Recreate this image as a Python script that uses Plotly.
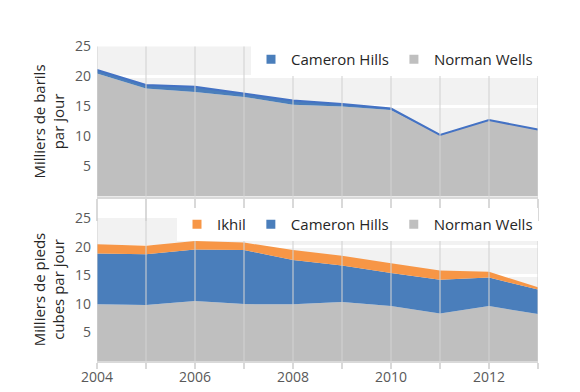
import plotly.graph_objects as go

years = [2004, 2005, 2006, 2007, 2008, 2009, 2010, 2011, 2012, 2013]
x_tick_labels = ["2004", "2006", "2008", "2010", "2012"]
y_tick_vals = [5, 10, 15, 20, 25]

# Oil (thousand barrels per day)
oil_norman_wells = [20.5, 18.0, 17.4, 16.6, 15.3, 15.0, 14.4, 10.2, 12.7, 11.1]
oil_cameron_hills = [0.6, 0.6, 0.9, 0.6, 0.7, 0.4, 0.25, 0.05, 0.05, 0.05]

# Gas (thousand cubic feet per day)
gas_norman_wells = [9.9, 9.8, 10.5, 9.95, 9.9, 10.3, 9.6, 8.3, 9.6, 8.2]
gas_cameron_hills = [8.9, 8.85, 9.0, 9.45, 7.75, 6.4, 5.8, 5.9, 5.0, 4.3]
gas_ikhil = [1.6, 1.5, 1.5, 1.3, 1.75, 1.7, 1.7, 1.6, 1.0, 0.4]

GRAY = "#bfbfbf"
BLUE = "#4a7ebb"
BLUE_LINE = "#4472c4"
ORANGE = "#f79646"
FONT = "Open Sans, Lato, sans-serif"

W, H = 580, 392
OFF = 8  # page body margin offset

def px_x(p):
    return (p - OFF) / W

def px_y(p):
    return 1 - (p - OFF) / H

fig = go.Figure()

# ---- top: oil ----
fig.add_trace(go.Scatter(x=years, y=oil_norman_wells, stackgroup="oil", mode="lines",
                         line=dict(width=0, color=GRAY), fillcolor=GRAY,
                         showlegend=False, xaxis="x", yaxis="y"))
fig.add_trace(go.Scatter(x=years, y=oil_cameron_hills, stackgroup="oil", mode="lines",
                         line=dict(width=2, color=BLUE_LINE), fillcolor=BLUE,
                         showlegend=False, xaxis="x", yaxis="y"))

# ---- bottom: gas ----
fig.add_trace(go.Scatter(x=years, y=gas_norman_wells, stackgroup="gas", mode="lines",
                         line=dict(width=0, color=GRAY), fillcolor=GRAY,
                         showlegend=False, xaxis="x2", yaxis="y2"))
fig.add_trace(go.Scatter(x=years, y=gas_cameron_hills, stackgroup="gas", mode="lines",
                         line=dict(width=0, color=BLUE), fillcolor=BLUE,
                         showlegend=False, xaxis="x2", yaxis="y2"))
fig.add_trace(go.Scatter(x=years, y=gas_ikhil, stackgroup="gas", mode="lines",
                         line=dict(width=0, color=ORANGE), fillcolor=ORANGE,
                         showlegend=False, xaxis="x2", yaxis="y2"))

# legend entries (square swatches)
def legend_entry(name, color, legend, xa, ya):
    fig.add_trace(go.Scatter(x=[None], y=[None], mode="markers", name=name,
                             marker=dict(symbol="square", size=9, color=color),
                             legend=legend, xaxis=xa, yaxis=ya))

legend_entry("Cameron Hills", BLUE, "legend", "x", "y")
legend_entry("Norman Wells", GRAY, "legend", "x", "y")
legend_entry("Ikhil", ORANGE, "legend2", "x2", "y2")
legend_entry("Cameron Hills", BLUE, "legend2", "x2", "y2")
legend_entry("Norman Wells", GRAY, "legend2", "x2", "y2")

xdom = [px_x(97), px_x(538)]
top_dom = [px_y(196.5), px_y(46.5)]
bot_dom = [px_y(361), px_y(218)]

common_x = dict(range=[years[0], years[-1]], tickvals=years, showgrid=False,
                zeroline=False, showline=True, linecolor="#d9d9d9", linewidth=2,
                ticks="outside", tickcolor="#d9d9d9", tickwidth=1.5, automargin=False,
                tickfont=dict(family=FONT, size=14, color="#595959"))
common_y = dict(range=[0, 25], tickvals=y_tick_vals, showgrid=True, gridcolor="white",
                gridwidth=2.5, zeroline=False, showline=False, ticks="",
                ticklabelstandoff=5, automargin=False,
                tickfont=dict(family=FONT, size=14, color="#595959"))

legend_common = dict(orientation="h", xanchor="right", yanchor="top", traceorder="normal",
                     bgcolor="white", font=dict(family=FONT, size=15, color="#262626"),
                     itemwidth=30, tracegroupgap=0)

fig.update_layout(
    width=W, height=H,
    margin=dict(l=0, r=0, t=0, b=0, autoexpand=False),
    paper_bgcolor="white", plot_bgcolor="#f2f2f2",
    font=dict(family=FONT, color="#262626"),
    xaxis=dict(domain=xdom, anchor="y", showticklabels=False, ticklen=22, **common_x),
    yaxis=dict(domain=top_dom, anchor="x",
               title=dict(text="Milliers de barils<br>par jour", standoff=6,
                          font=dict(family=FONT, size=15, color="#262626")),
               **common_y),
    xaxis2=dict(domain=xdom, anchor="y2", ticklen=6, ticklabelstandoff=-4,
                ticktext=[str(y) if str(y) in x_tick_labels else "" for y in years],
                **common_x),
    yaxis2=dict(domain=bot_dom, anchor="x2",
                title=dict(text="Milliers de pieds<br>cubes par jour", standoff=6,
                           font=dict(family=FONT, size=15, color="#262626")),
                **common_y),
    legend=dict(x=px_x(538), y=px_y(43), **legend_common),
    legend2=dict(x=px_x(538), y=px_y(208), **legend_common),
)

# vertical grid lines drawn above the areas (as in the reference)
shapes = []
for xa, ya in (("x", "y"), ("x2", "y2")):
    for yr in years:
        shapes.append(dict(type="line", xref=xa, yref=f"{ya} domain", x0=yr, x1=yr, y0=0, y1=1,
                           line=dict(color="rgba(210,210,210,0.7)", width=1.5), layer="above"))
fig.update_layout(shapes=shapes)

fig.write_html("out.html")
